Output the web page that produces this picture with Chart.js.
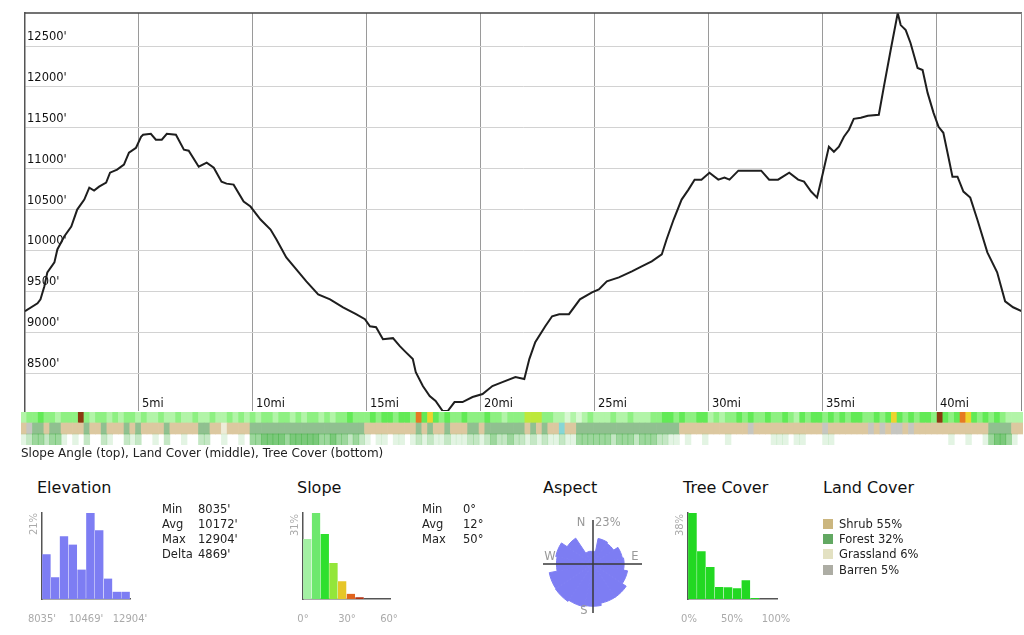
<!DOCTYPE html>
<html>
<head>
<meta charset="utf-8">
<script src="https://cdn.jsdelivr.net/npm/chart.js@4.4.1/dist/chart.umd.min.js"></script>
<style>
  body { margin: 0; background: #fff; font-family: "DejaVu Sans", sans-serif; }
  #wrap { position: relative; width: 1024px; height: 635px; overflow: hidden; }
  canvas, .t { position: absolute; }
  .t { white-space: nowrap; color: #222; font-size: 11.5px; line-height: 14px; }
  .ttl { font-size: 16px; line-height: 20px; color: #111; }
  .g { color: #aaa; font-size: 10px; line-height: 12px; }
  .a { color: #999; font-size: 11.5px; }
  .sw { position: absolute; width: 10px; height: 10px; }
  #bands { filter: blur(0.6px); }
</style>
</head>
<body>
<div id="wrap">
  <canvas id="profile" width="1024" height="420" style="left:0;top:0"></canvas>
  <canvas id="bands" width="1024" height="33" style="left:0;top:412px"></canvas>
  <canvas id="elevHist" width="108" height="98" style="left:32px;top:505px"></canvas>
  <canvas id="slopeHist" width="107" height="98" style="left:293px;top:505px"></canvas>
  <canvas id="aspect" width="110" height="110" style="left:538px;top:509px"></canvas>
  <canvas id="treeHist" width="109" height="98" style="left:678px;top:505px"></canvas>
</div>
<script>
// elevation profile (miles / feet)
var profileMiles = [0.0, 0.55, 0.68, 0.85, 0.98, 1.29, 1.42, 1.72, 2.03, 2.29, 2.60, 2.82, 3.03, 3.25, 3.56, 3.73, 4.04, 4.34, 4.56, 4.87,
  5.09, 5.18, 5.52, 5.74, 6.00, 6.22, 6.62, 6.97, 7.18, 7.62, 7.97, 8.28, 8.62, 8.84, 9.15, 9.59, 9.89, 10.33, 10.77, 11.03,
  11.46, 11.90, 12.34, 12.86, 13.38, 13.95, 14.52, 14.91, 15.13, 15.40, 15.70, 16.14, 16.44, 16.70, 17.01, 17.14, 17.45, 17.75, 18.01, 18.32,
  18.54, 18.84, 19.19, 19.63, 20.07, 20.50, 20.94, 21.51, 21.90, 22.12, 22.38, 22.82, 23.12, 23.43, 23.86, 24.34, 24.87, 25.17, 25.52, 26.05,
  26.62, 27.05, 27.49, 27.93, 28.14, 28.45, 28.80, 29.10, 29.37, 29.67, 30.02, 30.41, 30.68, 30.90, 31.29, 31.86, 32.29, 32.64, 33.03, 33.52,
  33.91, 34.17, 34.48, 34.74, 35.00, 35.26, 35.48, 35.70, 35.92, 36.14, 36.35, 36.66, 36.97, 37.45, 37.67, 37.97, 38.28, 38.41, 38.63, 38.84,
  39.15, 39.37, 39.59, 39.85, 40.07, 40.28, 40.50, 40.68, 40.90, 41.16, 41.46, 41.77, 42.21, 42.64, 42.99, 43.34, 43.73];
var profileElev = [9256, 9354, 9402, 9561, 9732, 9854, 10012, 10171, 10293, 10500, 10622, 10768, 10732, 10780, 10829, 10951, 10988, 11049, 11195, 11256,
  11390, 11415, 11427, 11354, 11354, 11427, 11415, 11232, 11220, 11024, 11073, 11012, 10841, 10817, 10805, 10598, 10537, 10378, 10256, 10134,
  9915, 9768, 9622, 9463, 9402, 9305, 9220, 9159, 9073, 9061, 8915, 8927, 8829, 8756, 8671, 8512, 8342, 8220, 8159, 8035,
  8035, 8146, 8146, 8207, 8244, 8342, 8390, 8451, 8427, 8671, 8878, 9073, 9195, 9220, 9220, 9402, 9488, 9524, 9622, 9671,
  9744, 9805, 9866, 9951, 10134, 10378, 10622, 10744, 10866, 10866, 10951, 10866, 10890, 10866, 10976, 10976, 10976, 10866, 10866, 10951,
  10866, 10841, 10720, 10646, 10951, 11268, 11207, 11268, 11390, 11476, 11610, 11622, 11646, 11659, 12000, 12451, 12904, 12756, 12695, 12537,
  12232, 12207, 11927, 11683, 11512, 11439, 11146, 10902, 10902, 10720, 10646, 10378, 9976, 9732, 9378, 9305, 9256];
var mileTicks = [5, 10, 15, 20, 25, 30, 35, 40];
var elevTicks = [8500, 9000, 9500, 10000, 10500, 11000, 11500, 12000, 12500];
var totalMiles = 43.73;

// stats
var elevStatNames = ['Min', 'Avg', 'Max', 'Delta'];
var elevStats = [8035, 10172, 12904, 4869];
var slopeStatNames = ['Min', 'Avg', 'Max'];
var slopeStats = [0, 12, 50];

// strips, one class per 0.25 mi
var slopeStrip = ("1223221222" + "7212212122" + "1211211211" + "2112112121" + "2122122121" +
  "2212122322" + "2323323326" + "3532322322" + "2322122244" + "4221101012" + "1112112111" +
  "2233232233" + "1212232322" + "3223213233" + "2323233223" + "2353232332" + "7323653232" + "32111").split('').map(Number);
var landStrip = ("SBFFSFFSSS" + "SFSSFSSSFS" + "FSSSSFSSSS" + "SFFSSGSSSS" + "FFFFFFFFFF" +
  "FFFFFFFFFF" + "SSSSSSSSSF" + "SFSSFSSSFF" + "SFFFFFFFSF" + "SFSSWSSFFF" + "FFFFFFFFFF" +
  "FFFFFSSSSS" + "SSSSSSSBSS" + "SSSSSSSSSS" + "BSSSSSSSBS" + "BSBBSBSSSS" + "SSSSSSSSSF" + "FFFSS").split('');
var treeStrip = ("1233233101" + "0200210021" + "2001020010" + "0220010010" + "3344443444" +
  "4433433232" + "1011011012" + "1211211122" + "1232232212" + "1211211333" + "3332333233" +
  "3221101001" + "0001000000" + "0111011000" + "1100000000" + "0000000000" + "0010010013" + "44310").split('').map(Number);

// histograms (percent)
var elevHist = [10.9, 5.3, 15.3, 13.3, 7.2, 21, 16.8, 5.0, 1.8, 1.8];
var elevHistTop = 21;
var slopeHist = [21.6, 31, 23.4, 13, 6.4, 1.9, 0.6, 0, 0, 0];
var slopeHistTop = 31;
var slopeAxis = [0, 30, 60];
var treeHist = [38, 21.1, 14.1, 5.3, 5.2, 4.7, 8.3, 0.4, 0, 0];
var treeHistTop = 38;
var treeAxis = [0, 50, 100];
var aspectDirs = ['N', 'NNE', 'NE', 'ENE', 'E', 'ESE', 'SE', 'SSE', 'S', 'SSW', 'SW', 'WSW', 'W', 'WNW', 'NW', 'NNW'];
var aspectPct = [6.5, 13.3, 12.7, 15.3, 15.9, 18, 20.4, 20.4, 21.6, 22.3, 23, 22.8, 18.7, 19.4, 15.9, 6.7];
var aspectTop = 23;
var landNames = ['Shrub', 'Forest', 'Grassland', 'Barren'];
var landPct = [55, 32, 6, 5];

var landColors = ['#cbb67f', '#62a862', '#e3e1c2', '#adada4'];
var landBand = { S: '#dcc8a0', F: '#90c090', G: '#eeecd8', B: '#c6c6c0', W: '#86d6d6' };
var slopeColors = ['#d8f8d2', '#b2f4a8', '#8ef082', '#62ea56', '#bde83c', '#ecd42e', '#e67a22', '#8a3a10'];
var treeColors = ['rgba(255,255,255,0)', 'rgba(60,175,60,0.14)', 'rgba(60,175,60,0.3)', 'rgba(60,175,60,0.5)', 'rgba(60,175,60,0.68)'];
var slopeBarColors = ['#a3f0a3', '#6ee86e', '#2ee02e', '#93e63a', '#e6c628', '#e0641e', '#b03214', '#8a1e0a', '#8a1e0a', '#8a1e0a'];
var purple = '#7d7df3';
var fontFam = '"DejaVu Sans", sans-serif';

var wrap = document.getElementById('wrap');
function txt(s, x, y, cls, align, rot) {
  var d = document.createElement('div');
  d.className = 't ' + (cls || '');
  d.textContent = s;
  d.style.left = x + 'px';
  d.style.top = y + 'px';
  var tx = align == 'center' ? '-50%' : (align == 'right' ? '-100%' : '0');
  d.style.transform = 'translate(' + tx + ',-50%)' + (rot ? ' rotate(-90deg)' : '');
  wrap.appendChild(d);
  return d;
}

var framePlugin = {
  id: 'frame',
  afterDraw: function (chart) {
    var ctx = chart.ctx, a = chart.chartArea, xs = chart.scales.x;
    ctx.save();
    ctx.strokeStyle = '#444';
    ctx.lineWidth = 1.5;
    ctx.beginPath(); ctx.moveTo(a.left, a.top); ctx.lineTo(a.right, a.top); ctx.stroke();
    ctx.strokeStyle = '#888';
    ctx.lineWidth = 1;
    ctx.beginPath(); ctx.moveTo(a.right - 0.5, a.top); ctx.lineTo(a.right - 0.5, a.bottom); ctx.stroke();
    ctx.fillStyle = '#111';
    ctx.font = '11.5px ' + fontFam;
    ctx.textBaseline = 'middle';
    mileTicks.forEach(function (m) {
      ctx.fillText(m + 'mi', xs.getPixelForValue(m) + 3, a.bottom - 7);
    });
    ctx.restore();
  }
};

new Chart(document.getElementById('profile'), {
  type: 'line',
  data: {
    datasets: [{
      data: profileMiles.map(function (m, i) { return { x: m, y: profileElev[i] }; }),
      borderColor: '#1e1e1e', borderWidth: 2, pointRadius: 0, tension: 0
    }]
  },
  options: {
    responsive: false, animation: false,
    layout: { padding: { left: 21, top: 13, right: 2, bottom: 8 } },
    plugins: { legend: { display: false }, tooltip: { enabled: false } },
    scales: {
      x: {
        type: 'linear', min: 0, max: totalMiles,
        afterBuildTicks: function (s) { s.ticks = mileTicks.map(function (v) { return { value: v }; }); },
        grid: { color: '#9a9a9a', drawTicks: false },
        border: { display: false },
        ticks: { display: false }
      },
      y: {
        type: 'linear', min: elevStats[0], max: elevStats[2],
        afterBuildTicks: function (s) { s.ticks = elevTicks.map(function (v) { return { value: v }; }); },
        grid: { color: '#d2d2d2', drawTicks: false },
        border: { display: true, color: '#555', width: 1.5 },
        ticks: {
          mirror: true, padding: 2, labelOffset: -9, color: '#111',
          font: { family: fontFam, size: 11.5 },
          callback: function (v) { return v + "'"; }
        }
      }
    }
  },
  plugins: [framePlugin]
});

// strips: tree (bottom), land cover (middle), slope (top)
function ones(arr) { return arr.map(function () { return 1; }); }
new Chart(document.getElementById('bands'), {
  type: 'bar',
  data: {
    labels: slopeStrip.map(function (v, i) { return i; }),
    datasets: [
      { data: ones(treeStrip), backgroundColor: treeStrip.map(function (c) { return treeColors[c]; }) },
      { data: ones(landStrip), backgroundColor: landStrip.map(function (c) { return landBand[c]; }) },
      { data: ones(slopeStrip), backgroundColor: slopeStrip.map(function (c) { return slopeColors[c]; }) }
    ]
  },
  options: {
    responsive: false, animation: false,
    layout: { padding: { left: 21, right: 1, top: 0, bottom: 0 } },
    datasets: { bar: { barPercentage: 1, categoryPercentage: 1, borderWidth: 0 } },
    scales: { x: { stacked: true, display: false }, y: { stacked: true, display: false, min: 0, max: 3 } },
    plugins: { legend: { display: false }, tooltip: { enabled: false } }
  }
});

function histogram(id, vals, colors, top) {
  return new Chart(document.getElementById(id), {
    type: 'bar',
    data: {
      labels: vals.map(function (v, i) { return i; }),
      datasets: [{
        data: vals, backgroundColor: colors,
        borderColor: 'rgba(255,255,255,0.55)', borderWidth: { left: 0.5, right: 0.5, top: 0, bottom: 0 },
        barPercentage: 1, categoryPercentage: 1
      }]
    },
    options: {
      responsive: false, animation: false,
      layout: { padding: { left: 10, right: 10, top: 8, bottom: 4 } },
      scales: {
        x: { grid: { display: false, drawTicks: false }, ticks: { display: false }, border: { color: '#555', width: 1.5 } },
        y: { min: 0, max: top, grid: { display: false, drawTicks: false }, ticks: { display: false }, border: { color: '#555', width: 1.5 } }
      },
      plugins: { legend: { display: false }, tooltip: { enabled: false } }
    }
  });
}
histogram('elevHist', elevHist, purple, elevHistTop);
histogram('slopeHist', slopeHist, slopeBarColors, slopeHistTop);
histogram('treeHist', treeHist, '#22d822', treeHistTop);

var crossPlugin = {
  id: 'cross',
  afterDraw: function (chart) {
    var ctx = chart.ctx, r = chart.scales.r;
    var cx = r.xCenter, cy = r.yCenter;
    ctx.save();
    ctx.strokeStyle = '#3a3a3a';
    ctx.lineWidth = 1.5;
    ctx.beginPath();
    ctx.moveTo(cx, cy - 44); ctx.lineTo(cx, cy + 49);
    ctx.moveTo(cx - 50, cy); ctx.lineTo(cx + 49, cy);
    ctx.stroke();
    ctx.restore();
  }
};
new Chart(document.getElementById('aspect'), {
  type: 'polarArea',
  data: { labels: aspectDirs, datasets: [{ data: aspectPct, backgroundColor: purple, borderColor: purple, borderWidth: 1 }] },
  options: {
    responsive: false, animation: false,
    layout: { padding: 10 },
    scales: { r: { min: 0, max: aspectTop, startAngle: -11.25, display: false } },
    plugins: { legend: { display: false }, tooltip: { enabled: false } }
  },
  plugins: [crossPlugin]
});

// texts
txt('Slope Angle (top), Land Cover (middle), Tree Cover (bottom)', 21, 453, '', 'left').style.fontSize = '12px';

txt('Elevation', 37, 488, 'ttl');
txt(elevHistTop + '%', 34, 524, 'g', 'center', true);
txt(elevStats[0] + "'", 42, 619, 'g', 'center');
txt(Math.floor((elevStats[0] + elevStats[2]) / 2) + "'", 86, 619, 'g', 'center');
txt(elevStats[2] + "'", 130, 619, 'g', 'center');
elevStatNames.forEach(function (n, i) {
  txt(n, 162, 509 + i * 15);
  txt(elevStats[i] + "'", 198, 509 + i * 15);
});

txt('Slope', 297, 488, 'ttl');
txt(slopeHistTop + '%', 295, 525, 'g', 'center', true);
slopeAxis.forEach(function (v, i) { txt(v + '°', [303, 347, 389][i], 619, 'g', 'center'); });
slopeStatNames.forEach(function (n, i) {
  txt(n, 422, 509 + i * 15);
  txt(slopeStats[i] + '°', 463, 509 + i * 15);
});

txt('Aspect', 543, 488, 'ttl');
txt('N', 581, 522, 'a', 'center');
txt(aspectTop + '%', 595, 522, 'a');
txt('W', 550, 556, 'a', 'center');
txt('E', 635, 556, 'a', 'center');
txt('S', 584, 610, 'a', 'center');

txt('Tree Cover', 683, 488, 'ttl');
txt(treeHistTop + '%', 680, 525, 'g', 'center', true);
treeAxis.forEach(function (v, i) { txt(v + '%', [689, 732, 776][i], 619, 'g', 'center'); });

txt('Land Cover', 823, 488, 'ttl');
landNames.forEach(function (n, i) {
  var y = 524 + i * 15.2;
  var s = document.createElement('div');
  s.className = 'sw';
  s.style.left = '823px';
  s.style.top = (y - 5) + 'px';
  s.style.background = landColors[i];
  wrap.appendChild(s);
  txt(n + ' ' + landPct[i] + '%', 839, y);
});
</script>
</body>
</html>
